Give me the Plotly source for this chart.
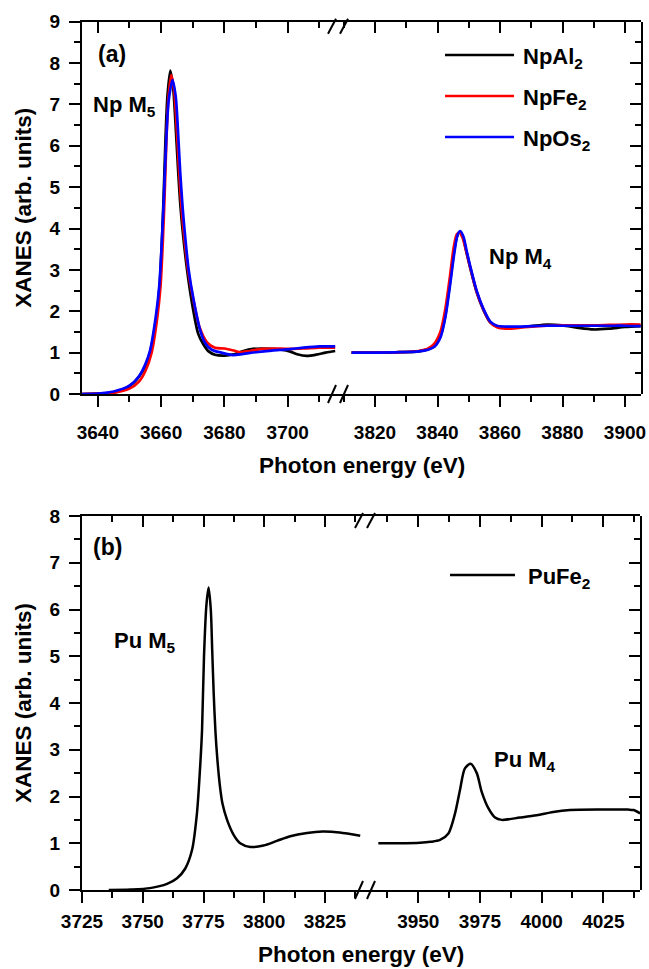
import plotly.graph_objects as go

# ---------------- data ----------------
series_a = ["NpAl<sub>2</sub>", "NpFe<sub>2</sub>", "NpOs<sub>2</sub>"]
colors_a = ["#000000", "#FF0000", "#0000FF"]

# Np M5 edge
npal2_m5_e = [3635, 3640, 3645.9, 3651, 3654.3, 3656.4, 3658.5, 3659.5, 3660.3, 3660.8, 3661.4, 3662,
              3662.9, 3663.8, 3664.5, 3665.3, 3666.1, 3667, 3668.2, 3669.6, 3671.7, 3673.2, 3675, 3677,
              3680, 3683, 3686, 3689, 3692, 3695, 3698, 3700.6, 3703, 3706, 3709, 3712, 3715]
npal2_m5_y = [0.0, 0.01, 0.05, 0.25, 0.57, 0.98, 1.86, 2.6, 3.8, 4.8, 6.2, 7.2,
              7.82, 7.4, 6.6, 5.5, 4.55, 3.8, 3.0, 2.27, 1.46, 1.22, 1.03, 0.95,
              0.93, 0.96, 1.04, 1.09, 1.1, 1.09, 1.07, 1.03, 0.96, 0.92, 0.95, 1.0, 1.04]

npfe2_m5_e = [3635, 3640, 3645, 3650, 3653, 3655, 3657, 3658.8, 3659.8, 3660.6, 3661.1, 3661.7, 3662.3,
              3663.2, 3664.1, 3664.8, 3665.6, 3666.4, 3667.3, 3668.5, 3670, 3672.2, 3674.5, 3677,
              3680, 3683, 3685, 3688, 3692, 3696, 3700, 3705, 3710, 3715]
npfe2_m5_y = [0.0, 0.01, 0.03, 0.13, 0.3, 0.55, 1.0, 1.86, 2.6, 3.8, 4.8, 6.2, 7.15,
              7.71, 7.35, 6.6, 5.5, 4.55, 3.8, 3.0, 2.35, 1.6, 1.25, 1.12,
              1.1, 1.05, 1.01, 1.04, 1.09, 1.1, 1.09, 1.1, 1.12, 1.12]

npos2_m5_e = [3635, 3640, 3645, 3650, 3653, 3655, 3656.5, 3658.3, 3659.4, 3660.3, 3660.9, 3661.6, 3662.4,
              3663.6, 3664.6, 3665.3, 3666, 3666.8, 3667.6, 3668.7, 3670.2, 3672.3, 3674, 3676,
              3679, 3682.7, 3686, 3690, 3695, 3700, 3705, 3710, 3715]
npos2_m5_y = [0.0, 0.01, 0.06, 0.2, 0.43, 0.72, 1.05, 1.86, 2.6, 3.8, 4.8, 6.1, 7.1,
              7.59, 7.2, 6.4, 5.4, 4.5, 3.8, 3.0, 2.3, 1.55, 1.22, 1.07,
              1.0, 0.94, 0.97, 1.01, 1.05, 1.08, 1.12, 1.15, 1.15]

# Np M4 edge
npal2_m4_e = [3812.5, 3820, 3828, 3834, 3837, 3839, 3841, 3842.5, 3844, 3845.3, 3846.3, 3847.2, 3848.2,
              3849.2, 3850.4, 3852.5, 3854.7, 3856.8, 3858.9, 3862, 3866, 3870, 3875, 3880, 3885,
              3890, 3895, 3900, 3905]
npal2_m4_y = [1.0, 1.0, 1.01, 1.03, 1.08, 1.16, 1.42, 1.9, 2.7, 3.45, 3.82, 3.92, 3.78,
              3.45, 3.07, 2.47, 2.03, 1.74, 1.64, 1.6, 1.61, 1.64, 1.68, 1.66, 1.6,
              1.56, 1.58, 1.62, 1.64]

npfe2_m4_e = [3812.5, 3820, 3828, 3834, 3837, 3839, 3841, 3842.5, 3844, 3845.2, 3846.2, 3847.1, 3848.1,
              3849.2, 3850.4, 3852.5, 3854.7, 3856.8, 3858.9, 3862, 3866, 3870, 3875, 3880, 3885,
              3890, 3895, 3900, 3905]
npfe2_m4_y = [1.0, 1.0, 1.01, 1.04, 1.1, 1.22, 1.52, 2.05, 2.85, 3.55, 3.86, 3.9, 3.76,
              3.45, 3.08, 2.48, 2.04, 1.74, 1.62, 1.58, 1.6, 1.63, 1.65, 1.66, 1.66,
              1.66, 1.67, 1.68, 1.68]

npos2_m4_e = [3812.5, 3820, 3828, 3834, 3837, 3839, 3841, 3842.5, 3844, 3845.4, 3846.4, 3847.3, 3848.3,
              3849.3, 3850.5, 3852.6, 3854.8, 3856.9, 3859, 3862, 3866, 3870, 3875, 3880, 3885,
              3890, 3895, 3900, 3905]
npos2_m4_y = [1.0, 1.0, 1.01, 1.03, 1.07, 1.14, 1.38, 1.85, 2.62, 3.42, 3.84, 3.94, 3.8,
              3.47, 3.08, 2.48, 2.04, 1.75, 1.65, 1.63, 1.63, 1.64, 1.65, 1.65, 1.65,
              1.65, 1.65, 1.65, 1.64]

# Pu edges (PuFe2)
series_b = ["PuFe<sub>2</sub>"]
pufe2_m5_e = [3736, 3745, 3753, 3760, 3764.1, 3767.5, 3770.3, 3772.3, 3773.7, 3774.4, 3775.2, 3776.2,
              3777.1, 3778.0, 3778.6, 3779.2, 3779.9, 3780.7, 3781.7, 3782.8, 3784.7, 3787.4, 3790.1,
              3794.3, 3799.7, 3805.2, 3810.7, 3817.6, 3824, 3831, 3839.5]
pufe2_m5_y = [0.0, 0.01, 0.04, 0.13, 0.25, 0.46, 0.86, 1.64, 2.71, 3.42, 4.99, 6.1,
              6.47, 6.0, 5.1, 4.2, 3.4, 2.8, 2.25, 1.85, 1.5, 1.18, 1.0,
              0.92, 0.95, 1.05, 1.15, 1.22, 1.25, 1.23, 1.16]

pufe2_m4_e = [3933.8, 3942, 3950.7, 3955, 3958.8, 3962.2, 3964.9, 3966.9, 3968.9, 3971.2, 3973.7,
              3975.7, 3978.4, 3981.1, 3983.8, 3991.2, 3998, 4004.7, 4011.5, 4025, 4035, 4037.2, 4039.9]
pufe2_m4_y = [1.0, 1.0, 1.01, 1.03, 1.07, 1.21, 1.64, 2.14, 2.6, 2.7, 2.5,
              2.1, 1.75, 1.55, 1.5, 1.55, 1.6, 1.67, 1.71, 1.72, 1.72, 1.71, 1.64]

# axis ticks
a_yticks = list(range(0, 10))
b_yticks = list(range(0, 9))

# ---------------- layout helpers ----------------
W, H = 649, 969
FONT = "Liberation Sans, Arial, sans-serif"


def px(x):
    return x / W


def py(y):
    return 1 - y / H


fig = go.Figure()

a_m5 = [(npal2_m5_e, npal2_m5_y), (npfe2_m5_e, npfe2_m5_y), (npos2_m5_e, npos2_m5_y)]
a_m4 = [(npal2_m4_e, npal2_m4_y), (npfe2_m4_e, npfe2_m4_y), (npos2_m4_e, npos2_m4_y)]
for name, col, (e5, y5), (e4, y4) in zip(series_a, colors_a, a_m5, a_m4):
    fig.add_trace(go.Scatter(x=e5, y=y5, mode="lines", name=name, xaxis="x", yaxis="y",
                             line=dict(color=col, width=2.7, shape="spline", smoothing=0.8),
                             showlegend=False))
    fig.add_trace(go.Scatter(x=e4, y=y4, mode="lines", name=name, xaxis="x2", yaxis="y",
                             line=dict(color=col, width=2.7, shape="spline", smoothing=0.8),
                             showlegend=False))

fig.add_trace(go.Scatter(x=pufe2_m5_e, y=pufe2_m5_y, mode="lines", name=series_b[0], xaxis="x5", yaxis="y3",
                         line=dict(color="#000000", width=2.5, shape="spline", smoothing=0.8),
                         showlegend=False))
fig.add_trace(go.Scatter(x=pufe2_m4_e, y=pufe2_m4_y, mode="lines", name=series_b[0], xaxis="x6", yaxis="y3",
                         line=dict(color="#000000", width=2.5, shape="spline", smoothing=0.8),
                         showlegend=False))

# empty traces so that the frame axes (top / right, inward ticks) get their subplots
for xa, ya in [("x3", "y"), ("x4", "y"), ("x2", "y2"), ("x7", "y3"), ("x8", "y3"), ("x6", "y4")]:
    fig.add_trace(go.Scatter(x=[None], y=[None], xaxis=xa, yaxis=ya, mode="lines",
                             showlegend=False, hoverinfo="skip"))

tickfont = dict(family=FONT, size=19, color="#000", weight="bold")
LW = 2


def xax(domain, rng, dtick, mdtick, side="bottom", anchor="y", labels=True, standoff=None):
    tdir = "outside" if side == "bottom" else "inside"
    d = dict(domain=domain, range=rng, dtick=dtick, anchor=anchor, side=side, automargin=False,
             ticks=tdir, ticklen=11, tickwidth=LW,
             tickcolor="#000", showline=True, linewidth=LW, linecolor="#000",
             showgrid=False, zeroline=False, showticklabels=labels, tickfont=tickfont,
             fixedrange=True,
             minor=dict(dtick=mdtick, ticklen=6, tickwidth=LW, tickcolor="#000",
                        ticks=tdir, showgrid=False))
    if standoff is not None:
        d["ticklabelstandoff"] = standoff
    return d


def yax(domain, rng, side="left", anchor="x", title=None):
    tdir = "outside" if side == "left" else "inside"
    d = dict(domain=domain, range=rng, dtick=1, anchor=anchor, side=side, automargin=False,
             ticks=tdir, ticklen=11, tickwidth=LW,
             tickcolor="#000", showline=True, linewidth=LW, linecolor="#000",
             showgrid=False, zeroline=False, showticklabels=(side == "left"), tickfont=tickfont,
             ticklabelstandoff=5, fixedrange=True,
             minor=dict(dtick=0.5, ticklen=6, tickwidth=LW, tickcolor="#000",
                        ticks=tdir, showgrid=False))
    if title:
        d["title"] = dict(text=title, font=dict(family=FONT, size=22.5, color="#000", weight="bold"),
                          standoff=12)
    return d


# panel (a) geometry
a_x1 = [px(82), px(339)]
a_x2 = [px(339), px(641)]
a_y = [py(394), py(21.7)]
a_r1 = [3635, 3635 + (339 - 82) / 3.165]
a_r2 = [3820 - (375 - 339) / 3.125, 3820 + (641 - 375) / 3.125]
# panel (b) geometry
b_x1 = [px(82), px(366)]
b_x2 = [px(366), px(640)]
b_y = [py(890), py(516)]
b_r1 = [3725, 3725 + (366 - 82) / 2.43]
b_r2 = [3950 - (418.3 - 366) / 2.467, 3950 + (640 - 418.3) / 2.467]

fig.update_layout(
    width=W, height=H, margin=dict(l=0, r=0, t=0, b=0, autoexpand=False),
    paper_bgcolor="white", plot_bgcolor="rgba(0,0,0,0)", showlegend=False,
    font=dict(family=FONT, color="#000"),
    xaxis=xax(a_x1, a_r1, 20, 10, standoff=9),
    xaxis2=xax(a_x2, a_r2, 20, 10, standoff=9),
    xaxis3=xax(a_x1, a_r1, 20, 10, side="top", labels=False),
    xaxis4=xax(a_x2, a_r2, 20, 10, side="top", labels=False),
    yaxis=yax(a_y, [0, 9], title="XANES (arb. units)"),
    yaxis2=yax(a_y, [0, 9], side="right", anchor="x2"),
    xaxis5=xax(b_x1, b_r1, 25, 12.5, anchor="y3", standoff=2),
    xaxis6=xax(b_x2, b_r2, 25, 12.5, anchor="y3", standoff=2),
    xaxis7=xax(b_x1, b_r1, 25, 12.5, side="top", anchor="y3", labels=False),
    xaxis8=xax(b_x2, b_r2, 25, 12.5, side="top", anchor="y3", labels=False),
    yaxis3=yax(b_y, [0, 8], anchor="x5", title="XANES (arb. units)"),
    yaxis4=yax(b_y, [0, 8], side="right", anchor="x6"),
)
fig.layout.yaxis.tickvals = a_yticks
fig.layout.yaxis3.tickvals = b_yticks

shapes = []
annos = []


def brk(bx, ay, top):
    # "//" axis-break marks
    if top:
        y0, y1 = ay + 12, ay - 3
    else:
        y0, y1 = ay + 9, ay - 9
    for dx in (-11, 1):
        shapes.append(dict(type="line", xref="paper", yref="paper",
                           x0=px(bx + dx), x1=px(bx + dx + 8), y0=py(y0), y1=py(y1),
                           line=dict(color="#000", width=2)))


brk(339, 21.7, True)
brk(339, 394, False)
brk(366, 516, True)
brk(366, 890, False)


def txt(x, y, s, size=22, xanchor="center"):
    annos.append(dict(x=px(x), y=py(y), xref="paper", yref="paper", text=s, showarrow=False,
                      xanchor=xanchor, yanchor="middle",
                      font=dict(family=FONT, size=size, color="#000", weight="bold")))


# legend (manual, long line samples as in the reference)
for i, (name, col) in enumerate(zip(series_a, colors_a)):
    yy = 55 + i * 41
    shapes.append(dict(type="line", xref="paper", yref="paper", x0=px(445), x1=px(514),
                       y0=py(yy), y1=py(yy), line=dict(color=col, width=2.7)))
    txt(521, yy + 3, name, size=22, xanchor="left")
shapes.append(dict(type="line", xref="paper", yref="paper", x0=px(450), x1=px(515),
                   y0=py(575), y1=py(575), line=dict(color="#000", width=2.6)))
txt(526, 578, series_b[0], size=22, xanchor="left")

txt(112, 54, "(a)", size=23)
txt(124, 106, "Np M<sub>5</sub>")
txt(520, 258, "Np M<sub>4</sub>")
txt(107, 547, "(b)", size=23)
txt(145, 642, "Pu M<sub>5</sub>")
txt(525, 761, "Pu M<sub>4</sub>")
txt(361.5, 466, "Photon energy (eV)", size=22.5)
txt(361, 954, "Photon energy (eV)", size=22.5)

fig.update_layout(shapes=shapes, annotations=annos)
fig.write_html("out.html", config={"displayModeBar": False},
               post_script="document.body.style.margin='0px';")
